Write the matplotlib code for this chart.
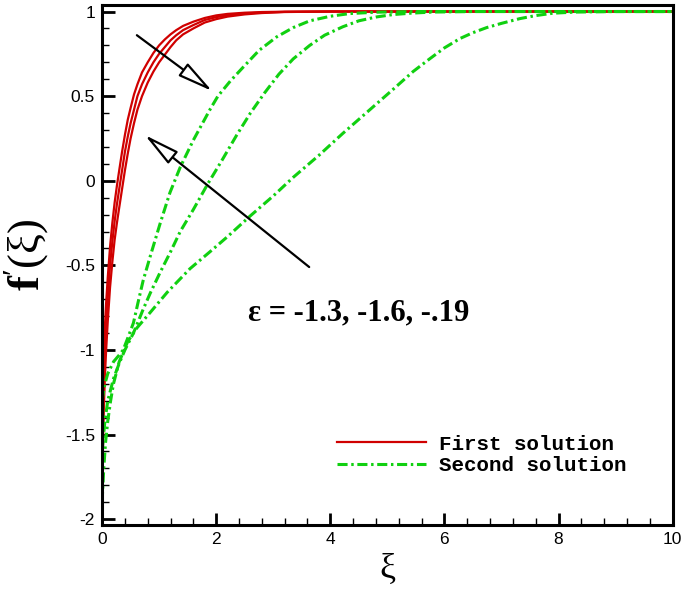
import numpy as np
import matplotlib
matplotlib.use('Agg')
from matplotlib import pyplot as plt

plt.rcParams['mathtext.fontset'] = 'custom'
plt.rcParams['mathtext.rm'] = 'Liberation Serif'
plt.rcParams['mathtext.it'] = 'Liberation Serif:italic'
plt.rcParams['mathtext.bf'] = 'Liberation Serif:bold'

### data
# first solution (red), eps = -1.3, -1.6, -1.9
xi_red = [0, 0.01, 0.02, 0.035, 0.05, 0.07, 0.1, 0.14, 0.18, 0.22, 0.26, 0.3, 0.35, 0.4, 0.45, 0.5, 0.56, 0.62,
          0.7, 0.8, 0.9, 1.0, 1.1, 1.2, 1.3, 1.42, 1.6, 1.8, 2.0, 2.2, 2.5, 2.8, 3.2, 4.0, 10]
red_13 = [-1.3, -1.2, -1.1, -0.97, -0.86, -0.73, -0.57, -0.39, -0.25, -0.13, -0.03, 0.06, 0.17, 0.27, 0.36, 0.43, 0.51, 0.57,
          0.64, 0.70, 0.755, 0.80, 0.835, 0.865, 0.89, 0.915, 0.94, 0.962, 0.977, 0.986, 0.993, 0.997, 0.999, 1.0, 1.0]
red_16 = [-1.6, -1.42, -1.28, -1.12, -1.0, -0.86, -0.69, -0.5, -0.36, -0.24, -0.14, -0.05, 0.06, 0.17, 0.26, 0.34, 0.42, 0.50,
          0.57, 0.64, 0.70, 0.75, 0.79, 0.83, 0.86, 0.89, 0.92, 0.95, 0.967, 0.978, 0.988, 0.994, 0.998, 1.0, 1.0]
red_19 = [-1.9, -1.68, -1.5, -1.3, -1.16, -1.01, -0.83, -0.63, -0.48, -0.35, -0.25, -0.16, -0.05, 0.06, 0.16, 0.25, 0.34, 0.42,
          0.50, 0.58, 0.645, 0.70, 0.745, 0.79, 0.83, 0.865, 0.90, 0.935, 0.955, 0.97, 0.983, 0.991, 0.997, 1.0, 1.0]

# second solution (green)
xi_g1 = [0, 0.05, 0.1, 0.2, 0.3, 0.37, 0.45, 0.55, 0.63, 0.72, 0.85, 1.02, 1.19, 1.37, 1.6, 1.89, 2.03, 2.25,
         2.47, 2.75, 3.06, 3.35, 3.64, 4.0, 4.34, 4.8, 5.5, 10]
green_13 = [-1.3, -1.2, -1.14, -1.07, -1.03, -1.0, -0.93, -0.84, -0.72, -0.59, -0.44, -0.25, -0.07, 0.08, 0.24, 0.42, 0.5, 0.59,
            0.67, 0.77, 0.85, 0.905, 0.945, 0.972, 0.988, 0.996, 1.0, 1.0]
xi_g2 = [0, 0.05, 0.1, 0.2, 0.3, 0.4, 0.55, 0.72, 0.85, 1.02, 1.2, 1.37, 1.6, 1.85, 2.1, 2.36, 2.6, 2.85, 3.1,
         3.35, 3.64, 3.9, 4.22, 4.5, 4.81, 5.1, 5.4, 5.8, 6.5, 10]
green_16 = [-1.6, -1.42, -1.3, -1.17, -1.08, -1.0, -0.9, -0.76, -0.66, -0.54, -0.42, -0.3, -0.17, -0.02, 0.12, 0.27, 0.4, 0.52, 0.63,
            0.72, 0.8, 0.86, 0.91, 0.945, 0.968, 0.982, 0.99, 0.997, 1.0, 1.0]
xi_g3 = [0, 0.03, 0.06, 0.1, 0.15, 0.2, 0.3, 0.45, 0.61, 0.84, 1.14, 1.54, 1.89, 2.2, 2.59, 3.0, 3.35, 3.8, 4.22,
         4.66, 5.1, 5.45, 5.74, 6.0, 6.27, 6.5, 6.74, 7.0, 7.32, 7.6, 7.9, 8.3, 9.0, 10]
green_19 = [-1.9, -1.7, -1.55, -1.42, -1.3, -1.2, -1.07, -0.95, -0.87, -0.78, -0.66, -0.52, -0.42, -0.33, -0.21, -0.09, 0.02, 0.15, 0.28,
            0.41, 0.54, 0.645, 0.72, 0.785, 0.84, 0.875, 0.905, 0.93, 0.958, 0.976, 0.99, 0.997, 1.0, 1.0]

red = '#d00000'
green = '#10d010'
dashdot = (0, (3.3, 1.2, 0.8, 1.2))

fig = plt.figure(figsize=(6.85, 5.94), dpi=100)
ax = fig.add_axes([0.149, 0.116, 0.833, 0.876])

ax.plot(xi_red, red_13, color=red, lw=1.6, label='First solution')
ax.plot(xi_red, red_16, color=red, lw=1.6)
ax.plot(xi_red, red_19, color=red, lw=1.6)
ax.plot(xi_g1, green_13, color=green, lw=2.2, ls=dashdot, label='Second solution')
ax.plot(xi_g2, green_16, color=green, lw=2.2, ls=dashdot)
ax.plot(xi_g3, green_19, color=green, lw=2.2, ls=dashdot)

ax.set_xlim(0, 10)
ax.set_ylim(-2.035, 1.04)
ax.set_xticks(np.arange(0, 11, 2))
ax.set_xticks(np.arange(0, 10.01, 0.4), minor=True)
ax.set_yticks([-2, -1.5, -1, -0.5, 0, 0.5, 1])
ax.set_yticklabels(['-2', '-1.5', '-1', '-0.5', '0', '0.5', '1'])
ax.set_yticks(np.arange(-2, 1.01, 0.1), minor=True)
ax.set_xticklabels(['0', '2', '4', '6', '8', '10'])
ax.tick_params(which='major', direction='in', length=9, width=2, labelsize=12.5, pad=5)
ax.tick_params(which='minor', direction='in', length=5, width=1)
for lab in ax.get_xticklabels() + ax.get_yticklabels():
    lab.set_family('Liberation Sans')
for s in ax.spines.values():
    s.set_linewidth(2.2)

### labels
ax.set_ylabel(r'$\mathbf{f}^{\prime}\mathrm{(\xi)}$', fontsize=32)
ax.yaxis.set_label_coords(-0.09, 0.52)
ax.set_xlabel('\u03be', family='Liberation Serif', fontsize=26, labelpad=4)

### arrows and annotation
arrow = dict(arrowstyle='-|>,head_length=1.45,head_width=0.32', fc='white', ec='black',
             lw=1.6, mutation_scale=15, shrinkA=0, shrinkB=0)
ax.annotate('', xy=(1.93, 0.53), xytext=(0.61, 0.86), arrowprops=arrow)
ax.annotate('', xy=(0.75, 0.27), xytext=(3.63, -0.51), arrowprops=arrow)
ax.text(2.55, -0.78, '\u03b5 = -1.3, -1.6, -.19', family='Liberation Serif', fontweight='bold',
        fontsize=22, ha='left', va='center')

leg = ax.legend(loc='upper left', bbox_to_anchor=(0.378, 0.21), frameon=False, handlelength=4.3,
                prop={'family': 'Liberation Mono', 'weight': 'bold', 'size': 15}, labelspacing=0.12,
                handletextpad=0.6)

plt.savefig('out.png', dpi=100)
